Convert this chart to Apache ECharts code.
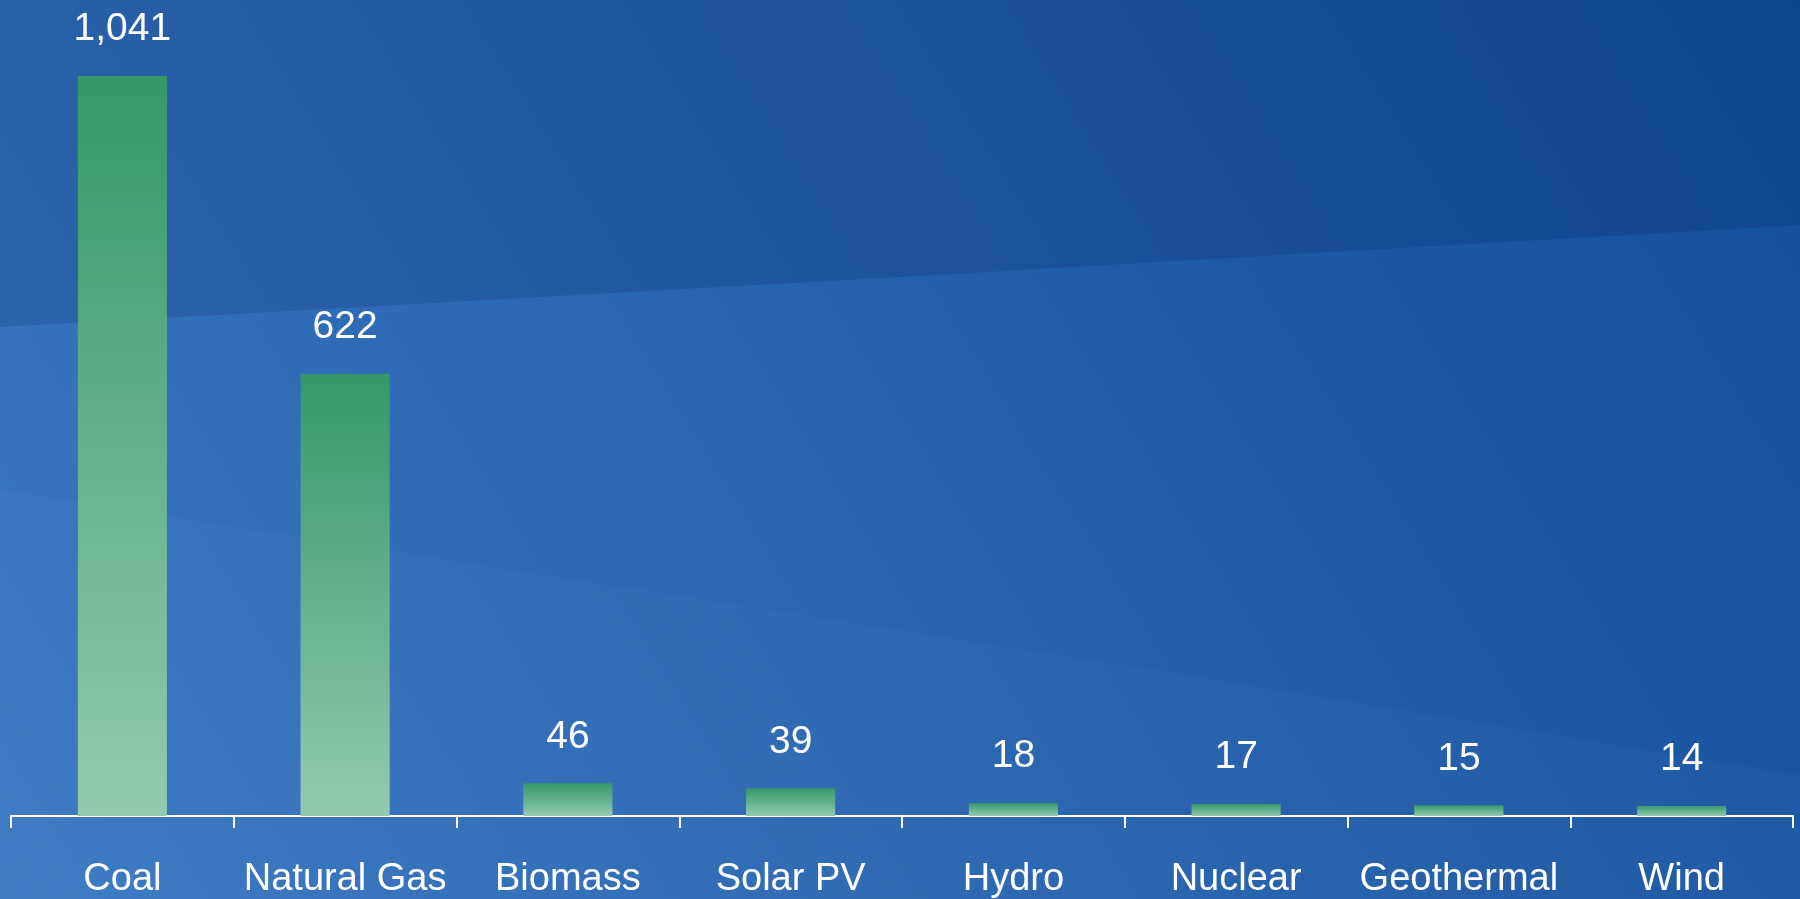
<!DOCTYPE html>
<html>
<head>
<meta charset="utf-8">
<script src="https://cdn.jsdelivr.net/npm/echarts@6/dist/echarts.min.js"></script>
<style>
    html, body { margin: 0; padding: 0; }
    #wrap {
        position: relative;
        width: 1800px;
        height: 899px;
        overflow: hidden;
        background: linear-gradient(58deg, #3a79c3 0%, #2d69b4 35%, #1e59a5 70%, #134e9a 100%);
    }
    .band { position: absolute; left: 0; top: 0; width: 1800px; height: 899px; }
    #bandTop {
        background: rgba(0, 25, 80, 0.16);
        clip-path: polygon(0 0, 1800px 0, 1800px 225px, 900px 277px, 0 327px);
    }
    #bandLow {
        background: rgba(255, 255, 255, 0.025);
        clip-path: polygon(0 490px, 1200px 677px, 1800px 775px, 1800px 899px, 0 899px);
    }
    #chart { position: absolute; left: 0; top: 0; width: 1800px; height: 899px; }
</style>
</head>
<body>
<div id="wrap">
    <div class="band" id="bandTop"></div>
    <div class="band" id="bandLow"></div>
    <div id="chart"></div>
</div>
<script>
// categories and values
const categories = ['Coal', 'Natural Gas', 'Biomass', 'Solar PV', 'Hydro', 'Nuclear', 'Geothermal', 'Wind'];
const values = [1041, 622, 46, 39, 18, 17, 15, 14];

const fontFamily = '"Liberation Sans", Arial, sans-serif';

const chart = echarts.init(document.getElementById('chart'));
chart.setOption({
    backgroundColor: 'transparent',
    animation: false,
    grid: {
        left: 11,
        right: 7,
        top: 34,
        bottom: 82,
        containLabel: false
    },
    xAxis: {
        type: 'category',
        data: categories,
        axisLine: {
            lineStyle: { color: '#ffffff', width: 2 }
        },
        axisTick: {
            show: true,
            length: 12,
            lineStyle: { color: '#ffffff', width: 2 }
        },
        axisLabel: {
            color: '#ffffff',
            fontSize: 38,
            fontFamily: fontFamily,
            margin: 45,
            interval: 0
        }
    },
    yAxis: {
        type: 'value',
        min: 0,
        max: 1100,
        show: false,
        splitLine: { show: false }
    },
    series: [{
        type: 'bar',
        data: values,
        barWidth: '40%',
        itemStyle: {
            color: new echarts.graphic.LinearGradient(0, 0, 0, 1, [
                { offset: 0, color: '#34986a' },
                { offset: 1, color: '#93cab0' }
            ])
        },
        label: {
            show: true,
            position: 'top',
            distance: 27,
            color: '#ffffff',
            fontSize: 39,
            fontFamily: fontFamily,
            formatter: function(p) {
                return p.value.toLocaleString('en-US');
            }
        }
    }]
});
</script>
</body>
</html>
